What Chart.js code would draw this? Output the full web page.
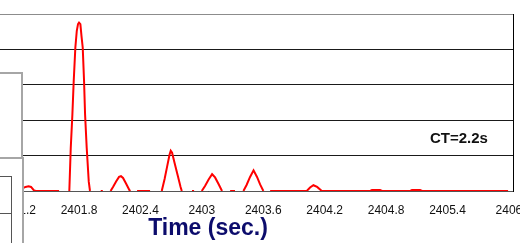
<!DOCTYPE html>
<html>
<head>
<meta charset="utf-8">
<script src="https://cdn.jsdelivr.net/npm/chart.js@4.4.0/dist/chart.umd.min.js"></script>
<style>
  html, body { margin: 0; padding: 0; background: #fff; }
  #wrap { position: relative; width: 520px; height: 243px; overflow: hidden; background: #fff; }
  #chart { position: absolute; left: -120px; top: 0; width: 680px; height: 243px; }
  .box { position: absolute; box-sizing: border-box; background: #fff; }
  #box1 { left: -3px; top: 72px; width: 26px; height: 87px; border: 2px solid #a6a6a6; }
  #box2 { left: -2px; top: 157px; width: 26px; height: 100px; border: 2px solid #a6a6a6; }
  #box3 { left: -3px; top: 176px; width: 15px; height: 38px; border: 1px solid #555; }
  #box4 { left: -3px; top: 213px; width: 15px; height: 60px; border: 1px solid #555; }
  #ct { position: absolute; left: 430px; top: 130px; font: bold 15px "Liberation Sans", Arial, sans-serif;
        line-height: 15px; color: #111; white-space: nowrap; }
</style>
</head>
<body>
<div id="wrap">
  <canvas id="chart" width="680" height="243"></canvas>
  <div class="box" id="box1"></div>
  <div class="box" id="box2"></div>
  <div class="box" id="box3"></div>
  <div class="box" id="box4"></div>
  <div id="ct">CT=2.2s</div>
</div>
<script>
// time in seconds, null marks a break in the trace
const times = [
  2401.224, 2401.277, 2401.307, 2401.331, 2401.360, 2401.380, 2401.605, null,
  2401.705, 2401.719, 2401.735, 2401.748, 2401.764, 2401.778, 2401.790, 2401.800,
  2401.813, 2401.824, 2401.836, 2401.849, 2401.859, 2401.875, 2401.895, 2401.907, null,
  2402.012, 2402.032, null,
  2402.108, 2402.132, 2402.162, 2402.191, 2402.210, 2402.230, 2402.259, 2402.294, 2402.303, null,
  2402.367, 2402.494, null,
  2402.608, 2402.636, 2402.660, 2402.684, 2402.696, 2402.709, 2402.733, 2402.763, 2402.792, 2402.804, null,
  2402.904, 2402.924, null,
  2402.999, 2403.031, 2403.066, 2403.100, 2403.129, 2403.163, 2403.197, null,
  2403.276, 2403.324, null,
  2403.406, 2403.437, 2403.471, 2403.505, 2403.539, 2403.569, 2403.601, null,
  2403.667, 2404.025, 2404.057, 2404.090, 2404.126, 2404.172, 2404.644, 2404.663,
  2404.741, 2404.761, 2405.035, 2405.054, 2405.132, 2405.152, 2405.992
];
const signal = [
  0.043, 0.114, 0.134, 0.114, 0.014, 0, 0, null,
  0, 1.213, 2.159, 3.105, 4.054, 4.526, 4.716, 4.759,
  4.716, 4.375, 4.054, 3.105, 2.159, 1.213, 0.264, 0, null,
  0, 0, null,
  0, 0.114, 0.270, 0.398, 0.420, 0.369, 0.213, 0.014, 0, null,
  0, 0, null,
  0, 0.341, 0.682, 1.023, 1.136, 1.080, 0.795, 0.455, 0.114, 0, null,
  0, 0, null,
  0, 0.142, 0.327, 0.474, 0.384, 0.199, 0, null,
  0, 0, null,
  0, 0.170, 0.398, 0.582, 0.398, 0.185, 0, null,
  0, 0, 0.099, 0.162, 0.114, 0, 0, 0.028,
  0.028, 0, 0, 0.028, 0.028, 0, 0
];
const xTicks = [2401.2, 2401.8, 2402.4, 2403, 2403.6, 2404.2, 2404.8, 2405.4, 2406];
const xMin = 2400.08;
const xMax = 2406.04;
const yMin = 0;
const yMax = 5;

const points = times.map((t, i) => ({ x: t, y: signal[i] }));

new Chart(document.getElementById('chart'), {
  type: 'line',
  data: {
    datasets: [{
      data: points,
      borderColor: '#ff0000',
      borderWidth: 2,
      pointRadius: 0,
      tension: 0,
      spanGaps: false,
      fill: false,
    }],
  },
  options: {
    responsive: false,
    animation: false,
    events: [],
    layout: { padding: { left: 23, right: 47, top: 14, bottom: 2.6 } },
    plugins: { legend: { display: false }, tooltip: { enabled: false } },
    scales: {
      x: {
        type: 'linear',
        min: xMin,
        max: xMax,
        afterBuildTicks: (scale) => { scale.ticks = xTicks.map((v) => ({ value: v })); },
        ticks: {
          color: '#111',
          font: { family: 'Liberation Sans, Arial, sans-serif', size: 12 },
          padding: 12,
          maxRotation: 0,
          autoSkip: false,
          callback: (v) => String(v),
        },
        grid: { display: false, drawTicks: false },
        border: { display: true, color: '#555', width: 1 },
        title: {
          display: true,
          text: 'Time (sec.)',
          color: '#0c0c6c',
          font: { family: 'Liberation Sans, Arial, sans-serif', size: 23, weight: 'bold', lineHeight: 1 },
          padding: { top: -12, bottom: 0 },
        },
      },
      y: {
        min: yMin,
        max: yMax,
        ticks: { display: false, stepSize: 1 },
        grid: {
          drawTicks: false,
          color: (ctx) => (ctx.tick && ctx.tick.value === yMax ? '#8c8c8c' : '#1a1a1a'),
          lineWidth: 1,
        },
        border: { display: false },
      },
      y2: {
        position: 'right',
        min: yMin,
        max: yMax,
        ticks: { display: false },
        grid: { display: false, drawTicks: false },
        border: { display: true, color: '#000', width: 1 },
      },
    },
  },
});
</script>
</body>
</html>
